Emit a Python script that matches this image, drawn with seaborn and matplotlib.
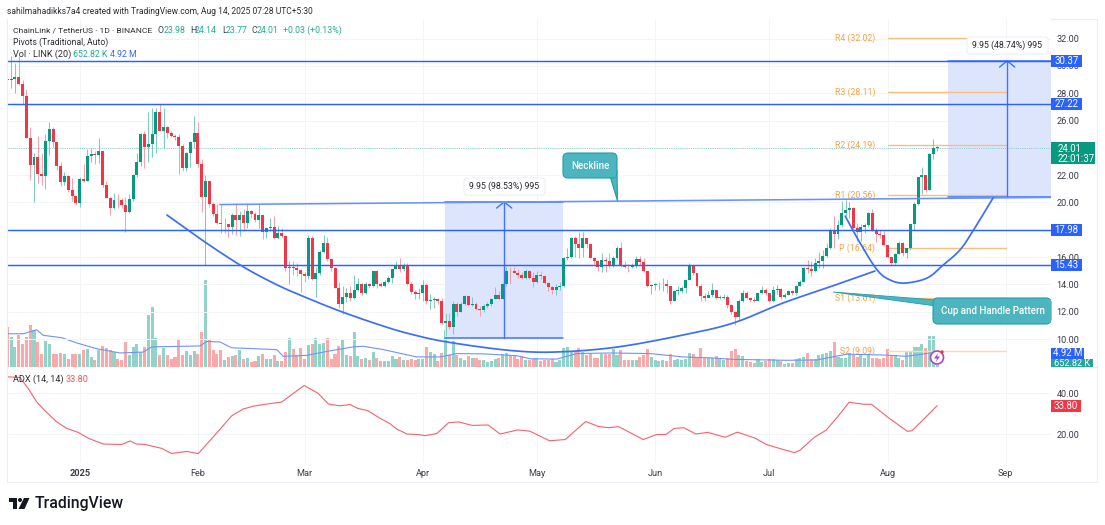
import numpy as np
import pandas as pd
import matplotlib
matplotlib.use("Agg")
import matplotlib.pyplot as plt
from matplotlib.patches import Rectangle, FancyBboxPatch, Polygon, Circle
from matplotlib.transforms import Bbox, TransformedBbox, Affine2D
import seaborn as sns

sns.set_theme(style="white")
plt.rcParams['font.family'] = ['Roboto', 'DejaVu Sans']

first_open = 29.05
closes = [28.95,29.05,29.2,28.65,27.8,24.75,22.75,23.3,22.1,21.95,
24.5,25.35,24.4,22.65,21.5,21.95,20.9,20.5,19.95,21.7,
21.6,23.4,23.55,23.45,23.8,21.3,20.35,19.6,20.2,20.15,
19.8,19.3,20.25,22.05,22.95,25.0,24.05,24.3,25.0,26.6,
25.25,25.55,25.1,24.9,24.8,24.15,22.5,23.6,24.4,25.1,
22.85,20.4,21.55,19.9,19.15,18.5,18.4,18.45,18.2,19.1,
18.75,19.1,18.5,19.4,19.15,18.75,19.1,17.85,18.1,18.2,
17.4,17.75,17.55,15.2,15.25,15.2,15.05,14.75,14.65,17.4,
14.4,14.8,16.4,17.05,15.85,15.2,13.75,12.55,13.1,13.4,
13.0,13.6,14.0,13.35,14.0,13.85,14.98,14.05,13.9,14.2,
14.45,15.1,15.45,15.15,15.45,14.05,13.45,13.3,13.4,13.95,
12.8,12.85,12.95,12.8,11.15,11.3,10.85,12.6,12.0,12.6,
13.15,12.5,12.55,12.2,12.1,12.45,12.6,12.9,13.2,12.95,
14.05,15.0,14.95,14.85,14.7,14.45,14.98,14.5,14.2,14.7,
14.6,14.1,13.8,13.6,13.8,13.85,15.9,16.0,17.4,16.95,
16.7,17.4,16.95,15.9,15.7,15.25,15.8,15.75,15.4,15.9,
16.7,15.4,15.3,15.25,15.4,15.85,15.65,15.0,13.85,13.95,
14.0,14.0,14.05,13.9,12.8,13.5,13.55,13.75,14.35,15.45,
14.8,13.9,13.15,13.0,13.25,13.6,13.0,13.0,13.05,12.5,
11.95,11.6,12.8,13.4,13.0,12.85,12.8,13.35,13.6,13.35,
12.75,13.6,13.65,13.05,13.25,13.55,13.35,13.9,14.2,15.2,
15.15,15.0,15.6,15.7,16.1,16.7,17.95,17.7,18.35,19.25,
19.45,19.6,18.15,17.85,18.2,18.35,19.2,18.0,17.7,17.6,
16.85,16.0,15.6,16.2,17.05,16.3,16.65,18.4,19.9,21.9,
22.0,20.95,23.55,23.98,24.01]
highs = [29.1,30.75,30.2,30.7,28.95,28.3,25.55,23.65,24.9,23.6,
25.0,25.9,25.55,24.4,23.0,22.2,22.0,21.8,20.5,21.9,
22.85,23.95,24.0,23.8,24.7,23.8,21.6,20.4,20.7,20.6,
20.3,20.4,20.6,22.1,23.6,25.1,25.2,26.65,26.9,26.9,
27.2,26.9,25.6,25.2,25.0,25.0,24.3,23.7,24.5,26.3,
25.9,23.2,22.0,21.6,20.0,19.9,19.9,18.9,18.45,19.2,
19.95,19.4,19.5,19.95,19.45,19.3,19.95,19.1,18.2,18.9,
19.0,18.3,18.1,17.6,15.7,15.7,15.6,15.1,14.9,17.6,
17.55,15.3,16.5,17.65,17.45,15.9,15.3,14.2,13.9,13.7,
13.9,14.7,14.5,14.1,14.2,14.1,15.0,15.05,14.2,14.3,
14.6,15.1,15.7,15.9,15.6,15.55,14.2,13.6,13.7,14.3,
14.1,13.3,13.1,13.0,13.0,11.9,11.9,12.8,12.7,12.7,
13.2,13.2,13.1,12.7,12.4,12.55,12.7,13.0,13.8,13.5,
14.1,15.3,15.25,15.3,15.1,14.9,15.1,15.05,14.9,15.0,
15.0,14.7,14.2,13.9,14.0,14.2,16.0,16.7,17.5,17.55,
17.85,17.85,17.4,17.0,16.0,15.8,16.3,16.0,16.3,16.1,
16.8,17.1,15.7,15.5,15.6,16.1,16.1,15.95,15.0,14.0,
14.1,14.2,14.5,14.4,13.9,13.6,13.85,13.9,14.4,15.55,
15.45,14.85,14.0,13.4,13.5,14.1,13.6,13.2,13.3,13.2,
12.6,12.0,12.9,13.6,13.5,13.1,13.1,13.4,13.9,13.7,
13.4,13.9,13.95,13.7,13.4,13.6,13.6,13.95,14.3,15.3,
15.8,15.7,15.9,16.4,16.5,17.0,18.1,19.0,18.7,20.1,
20.15,20.0,19.7,18.5,18.4,18.5,19.3,19.5,18.1,18.0,
17.9,16.9,16.0,16.3,17.2,17.1,16.7,18.45,20.0,21.9,
22.6,22.0,23.6,24.65,24.14]
lows = [28.8,28.4,28.0,28.6,27.2,24.7,21.65,20.0,21.4,21.3,
21.0,23.5,24.1,22.4,21.2,21.3,20.8,20.1,19.85,19.7,
21.5,21.6,23.0,22.8,22.9,21.1,20.3,19.1,19.5,19.6,
19.6,17.85,19.2,20.1,21.9,22.7,22.5,23.0,23.3,23.6,
25.2,24.0,24.7,24.8,24.6,22.1,22.3,22.3,22.6,24.0,
22.6,19.3,15.4,19.7,19.0,18.4,17.8,17.8,17.45,17.7,
17.6,17.55,17.9,18.1,18.9,18.6,18.1,17.3,17.4,17.9,
17.3,17.3,17.4,14.95,14.0,14.7,14.6,13.45,14.2,14.4,
14.3,13.05,14.7,16.3,15.7,15.0,13.7,12.3,11.85,12.7,
12.8,12.9,13.5,13.2,13.3,13.7,13.8,13.7,13.8,13.8,
14.1,14.1,15.1,14.9,15.0,13.95,13.3,12.95,12.9,12.8,
12.6,12.2,12.3,12.6,11.1,10.2,10.7,10.4,11.7,11.95,
12.5,12.4,12.4,12.1,11.7,11.95,12.3,12.45,12.9,12.9,
12.9,13.9,14.0,14.8,14.5,14.4,14.4,14.4,13.8,14.1,
14.4,14.0,13.5,13.3,13.2,13.6,13.8,15.8,15.9,16.0,
15.9,16.0,16.7,15.9,15.5,15.0,14.9,14.9,15.2,15.3,
15.85,15.3,15.2,14.9,15.2,15.2,15.4,14.9,13.8,13.3,
13.6,13.6,13.5,13.4,12.6,12.8,13.2,13.4,13.4,14.3,
14.7,13.8,12.8,12.8,13.05,13.05,12.9,12.9,12.9,12.3,
11.8,11.0,11.4,12.7,12.9,12.7,12.7,12.8,13.3,13.2,
12.7,12.7,13.3,12.9,13.0,13.2,13.2,13.2,13.9,14.2,
14.8,14.6,14.9,15.2,15.2,16.0,16.6,16.7,17.3,18.2,
19.0,18.9,18.0,17.2,17.2,17.8,18.2,17.9,17.1,17.4,
16.8,15.9,15.4,15.5,16.2,16.1,15.9,16.5,18.0,19.8,
20.6,20.8,20.9,23.2,23.77]
volumes = [13.1,9.8,6.6,10.4,7.7,10.0,13.7,12.0,8.2,4.2,
8.4,7.7,4.4,4.2,4.7,4.4,2.5,4.2,4.2,4.4,
5.5,5.8,3.3,2.2,5.5,7.0,6.1,5.5,4.9,2.7,
2.4,8.2,4.0,6.6,7.4,4.9,6.6,17.0,19.7,9.6,
3.9,6.2,3.9,2.7,3.3,8.7,4.0,5.1,3.9,5.4,
4.4,11.5,28.4,9.3,5.5,4.2,5.5,2.4,3.3,3.5,
4.0,5.5,2.5,3.1,1.6,1.9,3.5,4.2,2.6,2.6,
4.0,2.0,1.9,4.9,9.5,5.8,4.0,6.3,2.7,7.3,
7.5,9.5,7.7,8.0,9.5,2.7,4.2,7.0,9.2,3.9,
3.5,11.5,3.5,2.6,3.0,2.4,4.9,3.0,2.1,1.9,
1.9,3.5,2.7,3.3,2.4,2.4,2.7,2.2,2.6,2.7,
6.4,4.9,4.3,1.9,4.6,12.2,4.0,8.4,3.8,3.0,
2.4,3.5,3.0,3.0,2.4,2.2,1.5,1.9,2.7,3.0,
4.4,4.6,3.5,4.0,2.6,3.5,2.4,2.2,2.7,2.8,
1.9,2.4,2.2,2.6,1.6,2.2,6.2,6.6,4.9,4.9,
6.2,4.8,3.8,4.4,3.0,3.0,4.3,4.3,4.3,5.9,
4.0,5.7,2.4,2.2,2.2,2.4,3.2,4.0,6.0,3.3,
2.2,2.0,2.4,2.0,4.3,2.4,2.7,2.2,2.6,4.6,
4.3,3.0,6.2,3.0,3.0,3.0,3.6,3.0,2.2,3.0,
5.2,5.8,3.9,3.6,2.0,1.7,1.4,2.5,1.6,2.0,
2.5,2.5,2.3,2.0,0.9,1.4,1.4,2.5,3.0,3.4,
4.7,2.5,2.7,3.9,4.2,4.7,5.2,8.2,3.3,2.8,
3.0,4.7,3.9,3.3,4.2,3.0,4.2,3.0,3.0,2.7,
3.0,5.8,3.6,3.9,3.0,2.2,4.9,5.0,6.7,6.7,
7.7,6.3,10.2,10.2,0.65]
vol_ma_idx = [0,4.2,7.7,9.4,14.3,18.2,23.4,29.6,35.7,37.9,50.6,52.3,55.8,58.9,70.7,72.4,78.6,83.8,90.8,
93.4,98.7,107.4,113.6,117.9,124.9,133.7,137.2,144.2,149.4,158.2,168.7,177.4,184.4,190.5,204.5,212.4,220.3,230.8,236,244]
vol_ma = [10.9,10.9,12.2,10.4,9.6,7.9,6.0,4.6,4.9,6.6,6.9,8.4,8.2,6.3,5.7,3.5,3.8,5.1,6.6,
6.8,5.7,3.3,3.3,4.4,4.3,3.7,2.7,2.6,4.4,4.6,4.4,3.3,3.0,2.5,2.2,2.3,4.2,3.9,3.5,4.92]
adx_idx = [0,3.3,5.5,7.7,9.9,12.9,15.6,18.6,21.3,25.2,30,32.2,33.9,36.1,40.5,43.1,47.1,50.1,54.1,58.9,61.9,64.6,68.1,72,77.9,81.6,84.3,
87.3,89.9,92,94.6,97.7,100.3,102.3,104.9,108,109.6,112.7,115.8,118.4,122,126.2,129.3,134,137.1,142.3,146.4,151.8,155.2,157.8,160.4,163,166.9,170.3,172.9,175,177.5,180.7,183.8,188.4,191.6,196.2,199.3,203.5,206.6,208.1,211.8,214.9,218,220.9,224.8,226.8,231,236.2,237.4,240.8,244]
adx = [47.9,47.6,42.2,35.7,31.3,26,22.7,20.8,17.9,15.1,14.9,16.6,15.1,14.9,13,10.5,11.5,10.4,18.7,28.9,32.2,33.6,34.6,35.6,43.7,39.8,34.6,
33.75,34.4,32.5,31.4,27.8,25.2,22.3,20,19.7,19.2,20.2,25.5,25.9,24.2,24.4,20,22,21.4,16.7,17.3,26.1,23.6,23.1,23.6,21.1,17.3,19.7,19.8,22.7,23.1,20,20.8,18.4,20.9,18,14.8,12.5,10.9,12.2,18.4,21.9,28.6,35.5,34.5,34.5,28.3,21.3,21.6,27.8,33.8]
levels = [30.37,27.22,17.98,15.43]
pivot_names = ["R4","R3","R2","R1","P","S1","S2"]
pivot_vals = [32.02,28.11,24.19,20.56,16.64,13.01,9.09]
month_idx = [19,50,78,109,139,170,200,231,262]
month_labels = ["2025","Feb","Mar","Apr","May","Jun","Jul","Aug","Sep"]
price_ticks = list(range(10,34,2))
neck_x, neck_y = [55.8,273.9],[19.85,20.37]
cup_x = [41.9,51.1,61.1,70.3,78.7,87.9,98.6,105.7,115.4,132,144.3,160,177.3,190.5,203.6,216.7,227.7]
cup_y = [19.08,17.25,15.42,14.03,13.0,11.98,10.95,10.37,9.78,9.16,9.05,9.41,10.29,11.17,12.64,13.9,14.98]
handle_x = [219.9,223.8,228.3,231.7,235.6,241.4,245.6,250,253.4,258.7]
handle_y = [19.0,17.03,15.05,14.32,14.1,14.47,15.42,16.52,17.91,20.33]

n = len(closes)
assert len(highs)==n and len(lows)==n and len(volumes)==n
df = pd.DataFrame({"i":np.arange(n),"c":closes,"h":highs,"l":lows,"v":volumes})
df["o"] = df["c"].shift(1).fillna(first_open)
df["up"] = df["c"]>=df["o"]

W,H = 1105,525
fig = plt.figure(figsize=(W/100,H/100),dpi=100,facecolor="white")
def axes_px(l,t,r,b):
    return fig.add_axes([l/W,1-b/H,(r-l)/W,(b-t)/H])
BLUE,UP,DOWN,ORANGE,GRID,TXT = "#2962ff","#089981","#f23645","#f5a14a","#f3f4f8","#3a3d47"
SZ = 6.6
LEG = "#2b2d33"

ax_vol = axes_px(7.7,19,1051,367)
ax = axes_px(7.7,19,1051,367)
ax_adx = axes_px(7.7,367,1051,463)
ax.set_zorder(2); ax.patch.set_visible(False); ax_vol.set_zorder(1); ax_adx.set_zorder(1)
xlim = (0.1,273.9)
for a in (ax,ax_vol,ax_adx):
    a.set_xlim(*xlim)
    sns.despine(ax=a,left=True,bottom=True,right=True,top=True)
ax.set_ylim(7.95,33.44); ax_vol.set_ylim(0,114.1); ax_adx.set_ylim(5.85,52.7)

for a in (ax_vol,ax_adx):
    for m in month_idx:
        a.axvline(m,color=GRID,lw=0.7,zorder=0)
for t in price_ticks:
    ax.axhline(t,color=GRID,lw=0.7,zorder=0)
for t in (20,40):
    ax_adx.axhline(t,color=GRID,lw=0.7,zorder=0)

ax_vol.set_xticks([]); ax_vol.set_yticks([]); ax.set_xticks([])
ax.yaxis.tick_right()
ax.set_yticks(price_ticks,[f"{t:.2f}" for t in price_ticks])
ax.tick_params(axis="y",length=0,pad=4,labelsize=SZ,labelcolor=TXT)
ax_adx.yaxis.tick_right()
ax_adx.set_yticks([20,40],["20.00","40.00"])
ax_adx.tick_params(axis="y",length=0,pad=4,labelsize=SZ,labelcolor=TXT)
ax_adx.set_xticks(month_idx,month_labels)
ax_adx.tick_params(axis="x",length=0,pad=4.5,labelsize=SZ,labelcolor=TXT)
ax_adx.get_xticklabels()[0].set_fontweight("bold")

# volume
volc = np.where(df["up"],"#91d3c8","#f9a9a9")
ax_vol.bar(df["i"],df["v"],width=0.8,color=volc,lw=0)
sns.lineplot(x=vol_ma_idx,y=vol_ma,ax=ax_vol,color="#6f93fb",lw=0.8,zorder=3,errorbar=None,estimator=None)
ax_vol.set_xlim(*xlim); ax_vol.set_ylim(0,114.1); ax_vol.set_xlabel(""); ax_vol.set_ylabel("")

def range_box(x0,x1,y0,y1,ax_x):
    ax.add_patch(Rectangle((x0,y0),x1-x0,y1-y0,color="#dde5fd",lw=0,zorder=0.5))
    ax.plot([x0,x1],[y0,y0],color="#3f73ff",lw=1.1,zorder=3)
    ax.plot([x0,x1],[y1,y1],color="#3f73ff",lw=1.1,zorder=3)
    ax.plot([ax_x,ax_x],[y0,y1],color="#3f73ff",lw=1.0,zorder=3)
    ax.plot([ax_x-2,ax_x,ax_x+2],[y1-0.45,y1,y1-0.45],color="#3f73ff",lw=1.0,zorder=3)
range_box(114.9,145.9,10.07,20.04,130.4)
range_box(246.9,273.9,20.42,30.37,262.4)

for nm,v in zip(pivot_names,pivot_vals):
    ax.plot([231,262],[v,v],color="#f9bd80" if nm!="S2" else "#fbd9b5",lw=1.0,zorder=1.2)
    ax.text(227.8,v,f"{nm} ({v:.2f})",color=ORANGE,fontsize=6.3,ha="right",va="center",zorder=1.3)

ax.axhline(closes[-1],color="#67c3b3",lw=0.6,ls=(0,(1,1.6)),zorder=0.8)

colors = np.where(df["up"],UP,DOWN)
wick = np.where(df["up"],"#7fcbbd","#f8a0a8")
ax.vlines(df["i"],df["l"],df["h"],colors=wick,lw=0.75,zorder=2)
body = np.maximum(np.abs(df["c"]-df["o"]),0.06)
ax.bar(df["i"],body,bottom=np.minimum(df["c"],df["o"]),width=0.78,color=colors,lw=0,zorder=2.2)

for v in levels:
    ax.axhline(v,color=BLUE,lw=1.05,zorder=3)
ax.plot(neck_x,neck_y,color="#6a92fa",lw=1.15,zorder=3)
def smooth(xs,ys,k=12):
    P = np.column_stack([xs,ys]); P = np.vstack([2*P[0]-P[1],P,2*P[-1]-P[-2]])
    out=[]
    for j in range(1,len(P)-2):
        for t in np.linspace(0,1,k,endpoint=False):
            p0,p1,p2,p3 = P[j-1],P[j],P[j+1],P[j+2]
            out.append(0.5*(2*p1+(p2-p0)*t+(2*p0-5*p1+4*p2-p3)*t**2+(3*p1-p0-3*p2+p3)*t**3))
    out.append(P[-2]); return np.array(out)
for xs,ys in ((cup_x,cup_y),(handle_x,handle_y)):
    S = smooth(xs,ys)
    ax.plot(S[:,0],S[:,1],color="#3a6ff7",lw=1.25,zorder=3.2)

sns.lineplot(x=adx_idx,y=adx,ax=ax_adx,color="#f7616c",lw=0.8,errorbar=None,estimator=None)
ax_adx.set_xlim(*xlim); ax_adx.set_ylim(5.85,52.7)
ax_adx.set_ylabel(""); ax_adx.set_xlabel("")

def T(x,y,s,c=TXT,size=SZ,ha="left",va="center",**kw):
    return fig.text(x/W,1-y/H,s,color=c,fontsize=size,ha=ha,va=va,zorder=20,**kw)
def RECT(x0,y0,x1,y1,c,z=15):
    fig.add_artist(Rectangle((x0/W,1-y1/H),(x1-x0)/W,(y1-y0)/H,transform=fig.transFigure,color=c,lw=0,zorder=z))
def POLY(pts,fc,ec="none",lw=0,z=16):
    fig.add_artist(Polygon([(x/W,1-y/H) for x,y in pts],closed=True,transform=fig.transFigure,fc=fc,ec=ec,lw=lw,zorder=z))
PX = Affine2D().scale(1/W,1/H)+fig.transFigure
def ROUND(x0,y0,x1,y1,fc,ec,r=4,z=16,lw=0.8):
    p = FancyBboxPatch((x0+r,H-y1+r),x1-x0-2*r,y1-y0-2*r,boxstyle=f"round,pad={r},rounding_size={r}",fc=fc,ec=ec,lw=lw,zorder=z)
    p.set_transform(PX); fig.add_artist(p)
def CIRC(x,y,r,fc,ec,lw,z=18):
    p = Circle((x,H-y),r,fc=fc,ec=ec,lw=lw,zorder=z); p.set_transform(PX); fig.add_artist(p)

fig.add_artist(Rectangle((7/W,1-482/H),1090/W,463/H,transform=fig.transFigure,fill=False,ec="#eceef3",lw=0.8,zorder=0.5))
fig.add_artist(plt.Line2D([7/W,1097/W],[1-367/H,1-367/H],transform=fig.transFigure,color="#e6e8ee",lw=0.8,zorder=0.5))

T(7,11,"sahilmahadikks7a4 created with TradingView.com, Aug 14, 2025 07:28 UTC+5:30",c=LEG,size=6.15)
T(13,30.5,"ChainLink / TetherUS · 1D · BINANCE",c=LEG,size=6.1)
G="#22ab94"
for x,s,c in [(158,"O",TXT),(163.5,"23.98",G),(190,"H",TXT),(195,"24.14",G),(222,"L",TXT),(226,"23.77",G),(252,"C",TXT),(257,"24.01",G),(283,"+0.03 (+0.13%)",G)]:
    T(x,30.5,s,c=c,size=6.3)
T(13,42.5,"Pivots (Traditional, Auto)",c=LEG,size=6.2)
T(13,54.5,"Vol · LINK (20)",c=LEG)
T(73,54.5,"652.82 K",c=G,size=6.3); T(110,54.5,"4.92 M",c="#2f6bff",size=6.3)
T(13,379,"ADX (14, 14)",c=LEG); T(66,379,"33.80",c="#f7525f")

for v in levels:
    y = 339-(v-10)*13.65
    RECT(1051,y-6,1082,y+6,BLUE)
    T(1066.5,y,f"{v:.2f}",c="white",ha="center",size=6.9)
RECT(1051,142,1095,164,UP)
T(1058,148.5,"24.01",c="white",size=6.9); T(1058,158.5,"22:01:37",c="white",size=6.9)
RECT(1051,348,1084,358.5,BLUE); T(1067.5,353.3,"4.92 M",c="white",ha="center",size=6.9)
RECT(1051,359,1093,367,"#26a69a")
t=T(1072,364,"652.82 K",c="white",ha="center")
t.set_clip_on(True); t.set_clip_box(TransformedBbox(Bbox([[1051/W,1-367/H],[1093/W,1-359/H]]),fig.transFigure))
RECT(1051,400,1081,412,"#f23645"); T(1066,406,"33.80",c="white",ha="center",size=6.9)

for (x0,y0,x1,y1,s) in [(464,178,545,195,"9.95 (98.53%) 995"),(967,37,1048,54,"9.95 (48.74%) 995")]:
    ROUND(x0,y0,x1,y1,"white","#eeeff3",r=3,z=14)
    T((x0+x1)/2,(y0+y1)/2,s,c="#26282e",ha="center",size=6.3)

TEAL,EDGE = "#4db5c0","#1f9fad"
POLY([(610,176),(617.5,201),(617,170)],TEAL,EDGE,0.8,z=15)
ROUND(563,153,617,178,TEAL,EDGE,r=5,z=16)
RECT(609,170,616.3,177,TEAL,z=17)
T(590,165.5,"Neckline",c="white",size=7,ha="center",fontweight="medium")
POLY([(833,292),(936,300),(936,306)],TEAL,EDGE,0.6,z=15)
ROUND(933,298,1051,324,TEAL,EDGE,r=5,z=16)
RECT(1046,298.5,1051,323,TEAL,z=17)
T(941,310.5,"Cup and Handle Pattern",c="white",size=7,fontweight="medium")

CIRC(937,357.5,6.5,"white","#ab47bc",1.2)
POLY([(938.5,352.5),(934,358.5),(937,358.5),(935.5,362.5),(940,356.5),(937,356.5)],"#ab47bc",z=19)
CIRC(942,352,1.7,"#f23645","none",0,z=19)

LK="#131722"
POLY([(8.5,498),(17,498),(17,509),(12.5,509),(12.5,502),(8.5,502)],LK)
CIRC(20,500,2.0,LK,"none",0,z=16)
POLY([(24,498),(29.5,498),(24.5,509),(18.5,509)],LK)
T(35,503.3,"TradingView",c=LK,size=11.3,fontweight="medium")

fig.savefig("out.png",dpi=100,facecolor="white")
